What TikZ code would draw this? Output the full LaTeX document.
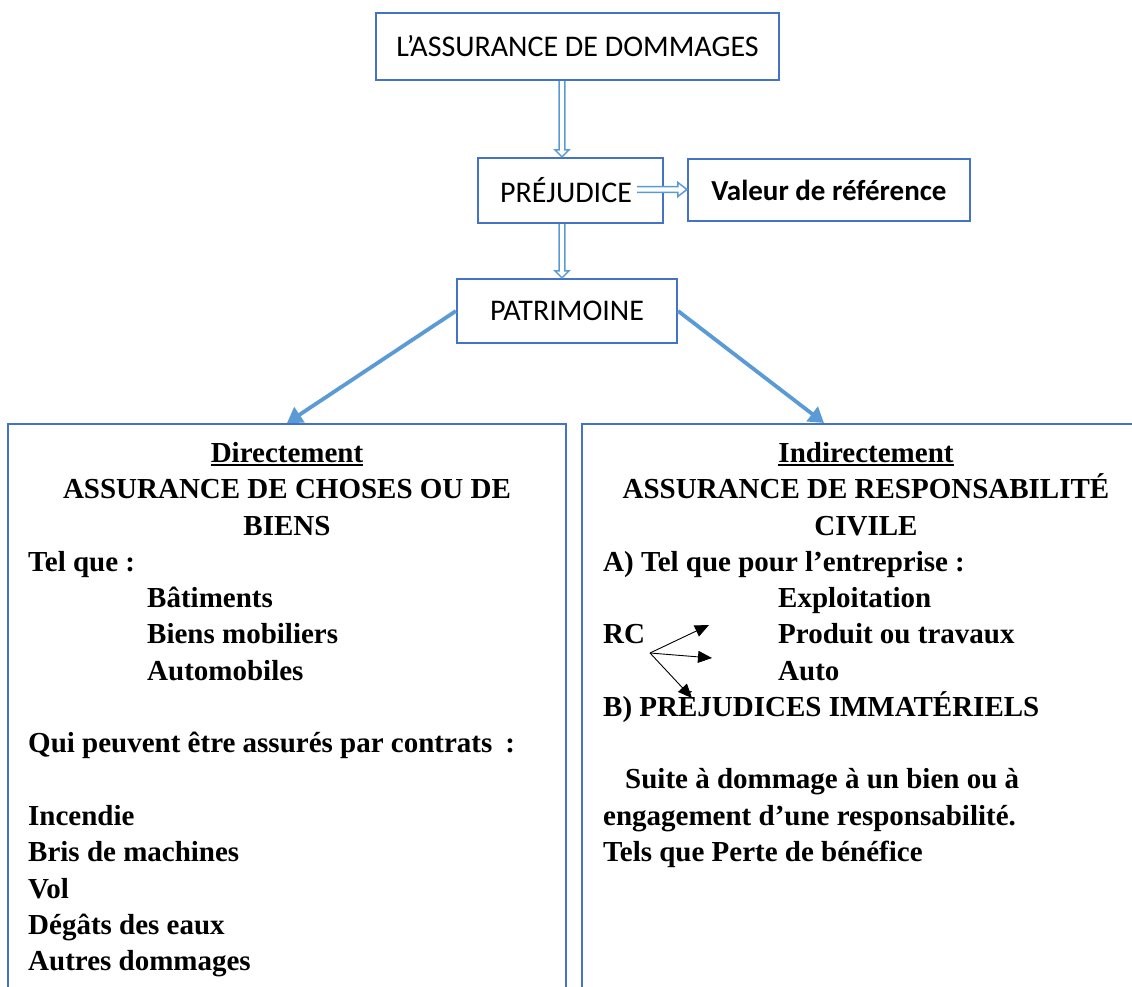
\documentclass[tikz,border=0pt]{standalone}
\usepackage{fontspec}
\setmainfont{Liberation Serif}
\newfontfamily\calfont{Carlito}
\usetikzlibrary{arrows.meta,calc}
\definecolor{boxblue}{HTML}{4472C4}
\definecolor{arrowblue}{HTML}{5B9BD5}
\newcommand\vhollow[2]{\draw[hollow] ($(#1)+(-2.8,0)$) -- ($(#2)+(-2.8,-7)$) -- ($(#2)+(-7,-7)$) -- (#2) -- ($(#2)+(7,-7)$) -- ($(#2)+(2.8,-7)$) -- ($(#1)+(2.8,0)$);}
\newcommand\hhollow[2]{\draw[hollow] ($(#1)+(0,-2.8)$) -- ($(#2)+(-9,-2.8)$) -- ($(#2)+(-9,-7)$) -- (#2) -- ($(#2)+(-9,7)$) -- ($(#2)+(-9,2.8)$) -- ($(#1)+(0,2.8)$);}
\begin{document}
\begin{tikzpicture}[x=1pt,y=-1pt,
  sbox/.style={draw=boxblue, line width=2.2pt, inner sep=0pt, fill=white,
    font=\calfont\fontsize{30}{36}\selectfont},
  bigbox/.style={draw=boxblue, line width=2.2pt, inner sep=0pt, anchor=north west},
  txt/.style={inner sep=0pt, anchor=base west, font=\bfseries\fontsize{29}{36}\selectfont},
  ctxt/.style={txt, anchor=base},
  hollow/.style={draw=arrowblue, line width=1.5pt, fill=white, line join=miter},
  bigarrow/.style={draw=arrowblue, line width=3.8pt, -{Triangle[length=15pt,width=18pt]}},
  rcarrow/.style={draw=black, line width=0.9pt, -{Triangle[length=14pt,width=12pt]}}]
\clip (0,0) rectangle (1132,987);
\fill[white] (0,0) rectangle (1132,987);

% top boxes
\node[sbox, minimum width=403pt, minimum height=67pt] (top) at (577.5,46.5) {L’ASSURANCE DE DOMMAGES};
\node[sbox, minimum width=185pt, minimum height=65pt, text width=141pt, inner xsep=22pt, align=left] (prej) at (570.5,190.5) {PRÉJUDICE};
\node[sbox, minimum width=282pt, minimum height=62pt, font=\calfont\bfseries\fontsize{29}{35}\selectfont] (val) at (829,190) {Valeur de référence};
\node[sbox, minimum width=220pt, minimum height=64pt] (patr) at (567,311) {PATRIMOINE};

% big boxes
\node[bigbox, minimum width=558pt, minimum height=700pt] (left) at (7,423) {};
\node[bigbox, minimum width=580pt, minimum height=700pt] (right) at (581,423) {};

% hollow arrows
\coordinate (t1) at ($(top.south)+(-15.5,0)$);
\coordinate (p1) at (t1 |- prej.north);
\coordinate (p2) at (t1 |- prej.south);
\coordinate (q1) at (t1 |- patr.north);
\coordinate (h1) at ($(prej.east)+(-27,-1)$);
\coordinate (h2) at ($(val.west)+(0,-0.5)$);
\vhollow{t1}{p1}
\vhollow{p2}{q1}
\hhollow{h1}{h2}

% big arrows
\coordinate (la) at ($(left.north west)+(280,0)$);
\coordinate (ra) at ($(right.north west)+(243,0)$);
\draw[bigarrow] (patr.west) -- (la);
\draw[bigarrow] (patr.east) -- (ra);

% left column
\node[ctxt] (dir) at (287,462) {Directement};
\draw[line width=1.4pt] ([yshift=-3pt]dir.base west) -- ([yshift=-3pt]dir.base east);
\node[ctxt] (l1) at (287,498) {ASSURANCE DE CHOSES OU DE};
\node[ctxt] (l2) at (287,535) {BIENS};
\node[txt] (l3) at (28,571) {Tel que :};
\node[txt] (l4) at (147,607) {Bâtiments};
\node[txt] (l5) at (147,643) {Biens mobiliers};
\node[txt] (l6) at (147,680) {Automobiles};
\node[txt] (l7) at (28,752) {Qui peuvent être assurés par contrats\hspace{0.45em}:};
\node[txt] (l8) at (28,825) {Incendie};
\node[txt] (l9) at (28,861) {Bris de machines};
\node[txt] (l10) at (28,898) {Vol};
\node[txt] (l11) at (28,934) {Dégâts des eaux};
\node[txt] (l12) at (28,970) {Autres dommages};

% right column
\node[ctxt] (ind) at (866,462) {Indirectement};
\draw[line width=1.4pt] ([yshift=-3pt]ind.base west) -- ([yshift=-3pt]ind.base east);
\node[ctxt] (r1) at (866,498) {ASSURANCE DE RESPONSABILITÉ};
\node[ctxt] (r2) at (866,535) {CIVILE};
\node[txt] (r3) at (603,571) {A) Tel que pour l’entreprise :};
\node[txt] (r4) at (778,607) {Exploitation};
\node[txt] (rc) at (603,643) {RC};
\node[txt] (r5) at (778,643) {Produit ou travaux};
\node[txt] (r6) at (778,680) {Auto};
\node[txt] (r7) at (603,716) {B) PRÉJUDICES IMMATÉRIELS};
\node[txt] (r8) at (625,788) {Suite à dommage à un bien ou à};
\node[txt] (r9) at (603,825) {engagement d’une responsabilité.};
\node[txt] (r10) at (603,861) {Tels que Perte de bénéfice};

% RC arrows
\coordinate (rco) at (650,653);
\coordinate (rt1) at (709,625);
\coordinate (rt2) at (712,658);
\coordinate (rt3) at (692,698);
\draw[rcarrow] (rco) -- (rt1);
\draw[rcarrow] (rco) -- (rt2);
\draw[rcarrow] (rco) -- (rt3);
\end{tikzpicture}
\end{document}
